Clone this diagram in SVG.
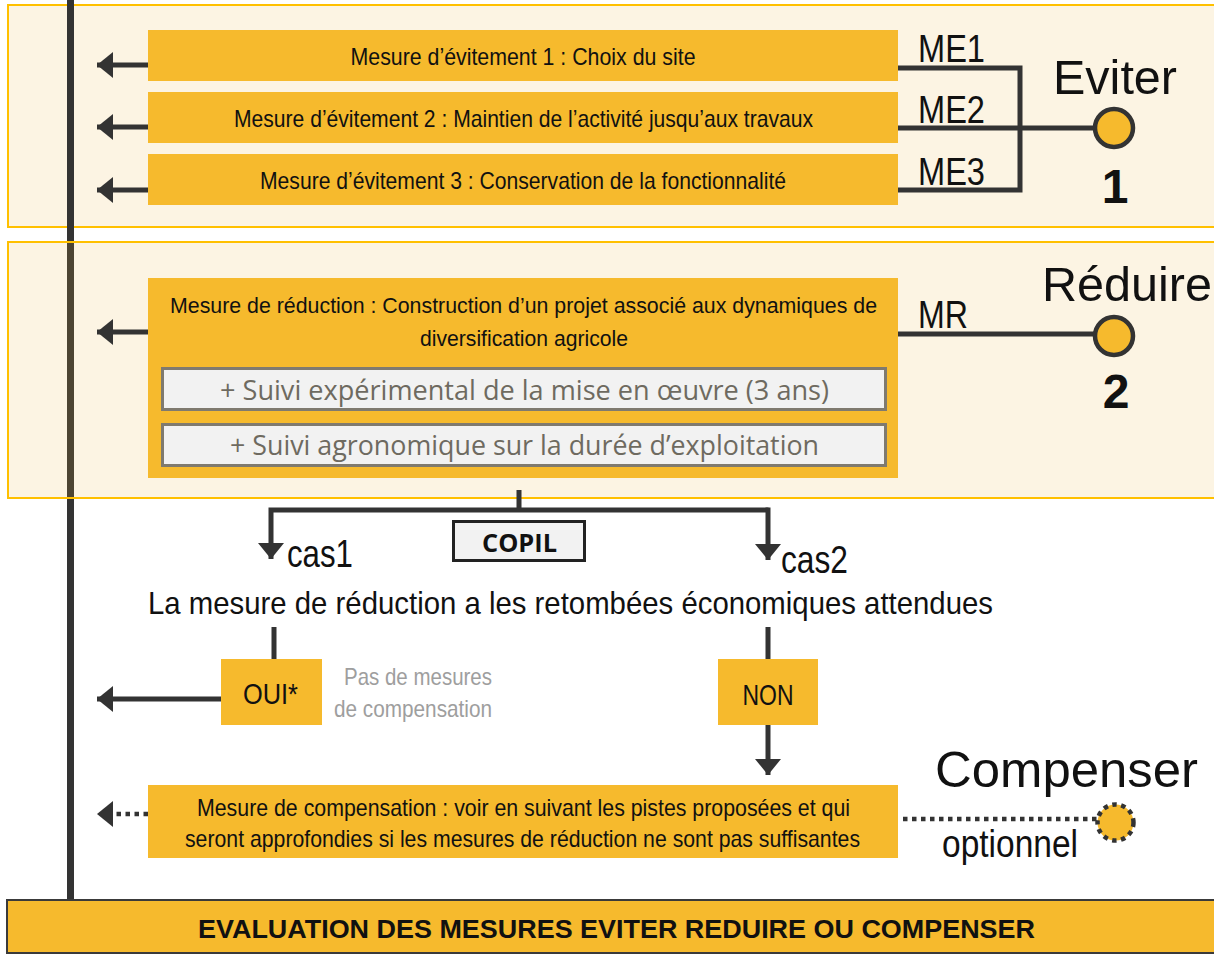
<svg xmlns="http://www.w3.org/2000/svg" width="1214" height="954" viewBox="0 0 1214 954">
<style>
.panel{fill:#EAB23A;fill-opacity:0.14;stroke:#FFC000;stroke-width:2}
.box{fill:#F6BA2D}
.sub{fill:#F2F2F2;stroke:#7F7A6F;stroke-width:3}
.n{font-family:"Liberation Sans Narrow","Liberation Sans",Arial,sans-serif;fill:#111}
.a{font-family:"Liberation Sans",Arial,sans-serif;fill:#111}
.c{font-family:"Open Sans","Noto Sans",sans-serif}
.ln{fill:none;stroke:#333;stroke-width:5}
.dot{fill:none;stroke:#333;stroke-width:4.5;stroke-dasharray:4.5 4.5}
.head{fill:#333}
</style>
<defs>
<marker id="ah" markerUnits="userSpaceOnUse" viewBox="0 0 16 26" refX="16" refY="13" markerWidth="16" markerHeight="26" orient="auto">
<path d="M0,0 L16,13 L0,26 Z" fill="#333"/>
</marker>
</defs>

<rect id="panel-eviter" class="panel" x="8" y="5" width="1215" height="222"/>
<line x1="70.5" y1="0" x2="70.5" y2="900" stroke="#333" stroke-width="7"/>
<rect id="panel-reduire" class="panel" x="8" y="242" width="1215" height="256"/>

<g id="connectors">
<line class="ln" x1="148" y1="65" x2="97" y2="65" marker-end="url(#ah)"/>
<line class="ln" x1="148" y1="127" x2="97" y2="127" marker-end="url(#ah)"/>
<line class="ln" x1="148" y1="190" x2="97" y2="190" marker-end="url(#ah)"/>
<line class="ln" x1="148" y1="332" x2="97" y2="332" marker-end="url(#ah)"/>
<path class="ln" d="M898,68 H1020 M898,190 H1020 M1020,65.5 V192.5 M898,128 H1095"/>
<path class="ln" d="M898,334 H1095"/>
<path class="ln" d="M519,490 V510 M271,510 H768.5 M271,507.5 V559" marker-end="url(#ah)"/>
<path class="ln" d="M768,507.5 V560" marker-end="url(#ah)"/>
<path class="ln" d="M274,627 V659 M768,627 V659"/>
<line class="ln" x1="221" y1="699" x2="97" y2="699" marker-end="url(#ah)"/>
<line class="ln" x1="768" y1="725" x2="768" y2="775" marker-end="url(#ah)"/>
<line class="dot" x1="148" y1="814" x2="112" y2="814"/>
<polygon class="head" points="97,814 113,801 113,827"/>
<line class="dot" x1="903" y1="819" x2="1097" y2="819"/>
</g>

<g id="me1"><rect class="box" x="148" y="30" width="750" height="51"/><text class="n" x="523" y="65" font-size="24" text-anchor="middle" textLength="345" lengthAdjust="spacingAndGlyphs">Mesure d’évitement 1 : Choix du site</text></g>
<g id="me2"><rect class="box" x="148" y="92" width="750" height="51"/><text class="n" x="523.5" y="127" font-size="24" text-anchor="middle" textLength="579" lengthAdjust="spacingAndGlyphs">Mesure d’évitement 2 : Maintien de l’activité jusqu’aux travaux</text></g>
<g id="me3"><rect class="box" x="148" y="154" width="750" height="51"/><text class="n" x="523" y="189" font-size="24" text-anchor="middle" textLength="526" lengthAdjust="spacingAndGlyphs">Mesure d’évitement 3 : Conservation de la fonctionnalité</text></g>

<g id="labels-me">
<text class="n" x="918" y="62" font-size="38" textLength="67" lengthAdjust="spacingAndGlyphs">ME1</text>
<text class="n" x="918" y="123" font-size="38" textLength="67" lengthAdjust="spacingAndGlyphs">ME2</text>
<text class="n" x="918" y="185" font-size="38" textLength="67" lengthAdjust="spacingAndGlyphs">ME3</text>
</g>

<g id="eviter">
<text class="a" x="1053" y="94" font-size="48" textLength="124" lengthAdjust="spacingAndGlyphs">Eviter</text>
<circle cx="1114" cy="128" r="19" fill="#F6BA2D" stroke="#333" stroke-width="4.5"/>
<text class="a" x="1115" y="203" font-size="48" font-weight="bold" text-anchor="middle">1</text>
</g>

<g id="mr">
<rect class="box" x="148" y="278" width="750" height="200"/>
<text class="n" x="523.5" y="313" font-size="22" text-anchor="middle" textLength="707" lengthAdjust="spacingAndGlyphs">Mesure de réduction : Construction d’un projet associé aux dynamiques de</text>
<text class="n" x="524" y="346" font-size="22" text-anchor="middle" textLength="208" lengthAdjust="spacingAndGlyphs">diversification agricole</text>
<rect class="sub" x="162.5" y="368.5" width="723" height="41"/>
<text class="c" x="524.5" y="400" font-size="27" fill="#6E6A60" text-anchor="middle" textLength="609" lengthAdjust="spacingAndGlyphs">+ Suivi expérimental de la mise en œuvre (3 ans)</text>
<rect class="sub" x="162.5" y="424.5" width="723" height="41"/>
<text class="c" x="524.5" y="455" font-size="27" fill="#6E6A60" text-anchor="middle" textLength="589" lengthAdjust="spacingAndGlyphs">+ Suivi agronomique sur la durée d’exploitation</text>
</g>
<text class="n" x="918" y="328" font-size="38" textLength="50" lengthAdjust="spacingAndGlyphs">MR</text>

<g id="reduire">
<text class="a" x="1042" y="301" font-size="48" textLength="170" lengthAdjust="spacingAndGlyphs">Réduire</text>
<circle cx="1114" cy="336" r="19" fill="#F6BA2D" stroke="#333" stroke-width="4.5"/>
<text class="a" x="1116" y="408" font-size="48" font-weight="bold" text-anchor="middle">2</text>
</g>

<g id="copil">
<rect x="453.5" y="521.5" width="131" height="39" fill="#F2F2F2" stroke="#222" stroke-width="3"/>
<text class="c" x="519.5" y="552" font-size="25" font-weight="bold" fill="#111" text-anchor="middle" textLength="75" lengthAdjust="spacingAndGlyphs">COPIL</text>
</g>

<text class="n" x="287" y="567" font-size="38" textLength="66" lengthAdjust="spacingAndGlyphs">cas1</text>
<text class="n" x="781" y="573" font-size="38" textLength="67" lengthAdjust="spacingAndGlyphs">cas2</text>
<text id="question" class="n" x="148" y="614" font-size="32" textLength="845" lengthAdjust="spacingAndGlyphs">La mesure de réduction a les retombées économiques attendues</text>

<g id="oui">
<rect class="box" x="221" y="659" width="101" height="66"/>
<text class="n" x="270.5" y="704" font-size="30" text-anchor="middle" textLength="55" lengthAdjust="spacingAndGlyphs">OUI*</text>
</g>
<g id="pas-de-mesures">
<text class="n" x="492" y="685" font-size="24" text-anchor="end" textLength="148" lengthAdjust="spacingAndGlyphs" style="fill:#9E9E9E">Pas de mesures</text>
<text class="n" x="492" y="717" font-size="24" text-anchor="end" textLength="158" lengthAdjust="spacingAndGlyphs" style="fill:#9E9E9E">de compensation</text>
</g>
<g id="non">
<rect class="box" x="718" y="659" width="100" height="66"/>
<text class="n" x="768" y="705" font-size="30" text-anchor="middle" textLength="51" lengthAdjust="spacingAndGlyphs">NON</text>
</g>

<g id="mc">
<rect class="box" x="148" y="785" width="750" height="73"/>
<text class="n" x="523.5" y="816" font-size="24" text-anchor="middle" textLength="653" lengthAdjust="spacingAndGlyphs">Mesure de compensation : voir en suivant les pistes proposées et qui</text>
<text class="n" x="522.5" y="847" font-size="24" text-anchor="middle" textLength="675" lengthAdjust="spacingAndGlyphs">seront approfondies si les mesures de réduction ne sont pas suffisantes</text>
</g>

<g id="compenser">
<text class="a" x="935" y="787" font-size="50" textLength="263" lengthAdjust="spacingAndGlyphs">Compenser</text>
<circle cx="1115.5" cy="822.5" r="18" fill="#F6BA2D" stroke="#333" stroke-width="4.5" stroke-dasharray="4.5 4.5"/>
<text class="n" x="942" y="857" font-size="38" textLength="136" lengthAdjust="spacingAndGlyphs">optionnel</text>
</g>

<g id="evaluation">
<rect x="7" y="900" width="1215" height="53" fill="#F6BA2D" stroke="#3A3A3A" stroke-width="2"/>
<text class="a" x="616.5" y="938" font-size="25" font-weight="bold" text-anchor="middle" textLength="837" lengthAdjust="spacingAndGlyphs">EVALUATION DES MESURES EVITER REDUIRE OU COMPENSER</text>
</g>
</svg>
